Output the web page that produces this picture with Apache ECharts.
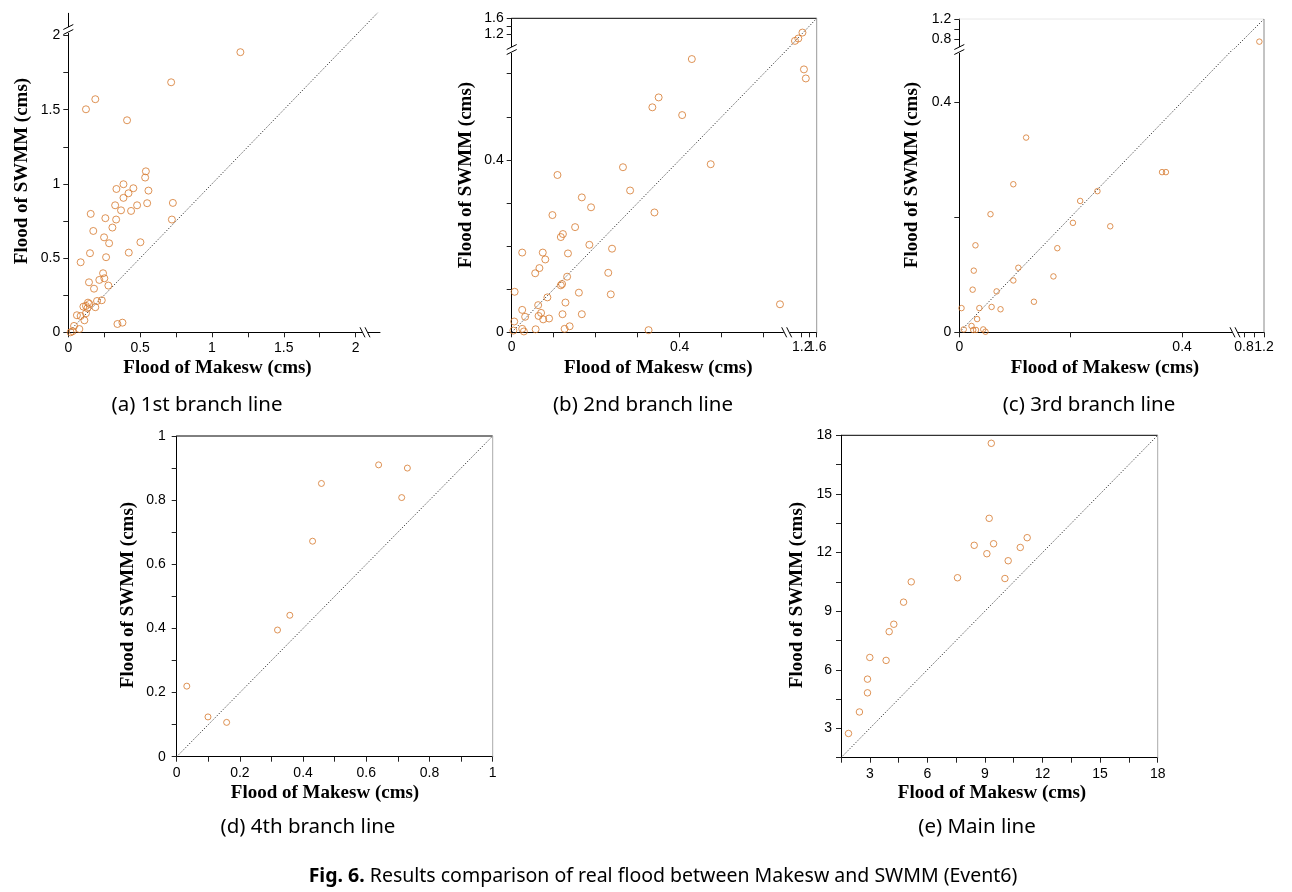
<!DOCTYPE html>
<html><head><meta charset="utf-8">
<script src="https://cdn.jsdelivr.net/npm/echarts@6/dist/echarts.min.js"></script>
<style>html,body{margin:0;padding:0;background:#fff}#c{width:1292px;height:892px}</style>
</head><body><div id="c"></div>
<script>
// ---------------- DATA ----------------
// (a) 1st branch line
const aMakesw = [1.198,0.716,0.188,0.123,0.409,0.540,0.535,0.384,0.335,0.453,0.558,0.419,0.384,0.326,0.479,0.728,0.549,0.367,0.437,0.156,0.258,0.333,0.721,0.174,0.307,0.249,0.284,0.502,0.151,0.421,0.086,0.263,0.242,0.216,0.251,0.144,0.179,0.279,0.200,0.233,0.137,0.147,0.105,0.123,0.188,0.133,0.123,0.060,0.086,0.112,0.077,0.040,0.030,0.016,0.342,0.377];
const aSwmm   = [1.888,1.685,1.571,1.503,1.429,1.085,1.043,0.998,0.966,0.971,0.955,0.937,0.906,0.856,0.856,0.872,0.870,0.822,0.818,0.798,0.769,0.760,0.760,0.683,0.706,0.640,0.600,0.607,0.533,0.537,0.472,0.506,0.398,0.353,0.364,0.337,0.294,0.315,0.211,0.216,0.200,0.191,0.173,0.178,0.169,0.162,0.128,0.115,0.110,0.081,0.022,0.043,0.007,0.000,0.056,0.065];
// (b) 2nd branch line
const bMakesw = [0.429,0.350,0.335,0.406,0.474,0.265,0.109,0.282,0.167,0.189,0.340,0.097,0.151,0.122,0.117,0.185,0.239,0.025,0.074,0.134,0.080,0.066,0.056,0.230,0.132,0.117,0.120,0.160,0.236,0.007,0.085,0.128,0.063,0.025,0.121,0.167,0.032,0.064,0.070,0.075,0.089,0.006,0.138,0.126,0.057,0.025,0.029,0.004,0.326,0.639,1.02,1.11,1.22,1.26,1.31];
const bSwmm   = [0.634,0.545,0.522,0.504,0.390,0.383,0.365,0.329,0.313,0.290,0.278,0.272,0.244,0.228,0.221,0.203,0.194,0.185,0.185,0.183,0.169,0.149,0.137,0.138,0.129,0.109,0.112,0.092,0.088,0.094,0.081,0.069,0.063,0.052,0.042,0.042,0.036,0.038,0.045,0.030,0.032,0.025,0.014,0.008,0.007,0.008,0.002,0.004,0.005,0.065,1.03,1.09,1.24,0.610,0.589];
// (c) 3rd branch line
const cMakesw = [1.107,0.120,0.097,0.056,0.029,0.026,0.024,0.004,0.036,0.058,0.074,0.032,0.022,0.008,0.025,0.030,0.043,0.047,0.067,0.097,0.106,0.134,0.169,0.176,0.204,0.217,0.248,0.271,0.364,0.371];
const cSwmm   = [0.747,0.338,0.257,0.205,0.151,0.107,0.074,0.042,0.042,0.044,0.040,0.023,0.011,0.005,0.004,0.004,0.005,0.001,0.071,0.090,0.112,0.053,0.097,0.146,0.190,0.228,0.245,0.184,0.278,0.278];
// (d) 4th branch line
const dMakesw = [0.639,0.730,0.458,0.712,0.430,0.358,0.319,0.032,0.099,0.158];
const dSwmm   = [0.910,0.900,0.852,0.808,0.672,0.441,0.395,0.220,0.124,0.107];
// (e) Main line
const eMakesw = [9.33,9.22,11.20,8.44,9.45,10.84,9.10,10.21,7.57,10.04,5.16,4.76,4.25,4.01,3.85,3.00,2.88,2.88,2.46,1.89];
const eSwmm   = [17.59,13.75,12.76,12.37,12.45,12.26,11.94,11.58,10.71,10.67,10.50,9.46,8.33,7.95,6.48,6.63,5.52,4.82,3.84,2.74];

// Axis ranges, ticks and tick labels
const aRangeX = [0, 2.17], aRangeY = [0, 2.15];
const aTicks = [0,0.25,0.5,0.75,1,1.25,1.5,1.75,2];
const aLabels = [0,0.5,1,1.5,2];

const bLoRange = [0, 0.655], bHiRange = [0.8, 1.6];
const bLoTicks = [0,0.1,0.2,0.3,0.4,0.5,0.6], bLoLabels = [0,0.4];
const bHiTicks = [1.2,1.4,1.6], bHiLabels = [1.2,1.6];

const cXLoRange = [0, 0.495], cXHiRange = [0.62, 1.2];
const cYLoRange = [0, 0.49],  cYHiRange = [0.58, 1.2];
const cLoTicks = [0,0.2,0.4], cLoLabels = [0,0.4];
const cHiTicks = [0.8,1.0,1.2], cHiLabels = [0.8,1.2];

const dRange = [0, 1];
const dTicks = [0,0.1,0.2,0.3,0.4,0.5,0.6,0.7,0.8,0.9,1];
const dLabels = [0,0.2,0.4,0.6,0.8,1];

const eRange = [1.5, 18];
const eTicks = [1.5,3,4.5,6,7.5,9,10.5,12,13.5,15,16.5,18];
const eLabels = [3,6,9,12,15,18];

const xTitle = 'Flood of Makesw (cms)';
const yTitle = 'Flood of SWMM (cms)';
const subCaptions = ['(a) 1st branch line','(b) 2nd branch line','(c) 3rd branch line','(d) 4th branch line','(e) Main line'];
const figCaptionBold = 'Fig. 6.';
const figCaption = 'Results comparison of real flood between Makesw and SWMM (Event6)';

// ---------------- BUILD ----------------
const TICKFONT = '"Liberation Sans", Arial, sans-serif';
const TITLEFONT = 'bold 19px "Liberation Serif", "Times New Roman", serif';
const CAPFONT = '"Noto Sans", "Open Sans", sans-serif';
const MARK = '#d6782c';
const grids = [], xAxes = [], yAxes = [], series = [], graphics = [];

function addGrid(l, t, r, b) {
  grids.push({left: l, top: t, width: r - l, height: b - t});
  return grids.length - 1;
}
function axisCfg(dim, gi, range, o) {
  const position = dim === 'x' ? 'bottom' : 'left';
  if (!o) return {gridIndex: gi, type: 'value', position, min: range[0], max: range[1], show: false};
  return {
    gridIndex: gi, type: 'value', position, offset: 0, min: range[0], max: range[1], show: true,
    axisLine: {show: o.line !== false, onZero: false, lineStyle: {color: '#000', width: 1}},
    axisTick: {show: o.line !== false, length: 5, inside: false, customValues: o.ticks, lineStyle: {color: '#222', width: 1}},
    axisLabel: {show: true, customValues: o.labels, margin: o.margin || 8, color: '#000',
      fontSize: 14, fontFamily: TICKFONT, hideOverlap: false, showMinLabel: true, showMaxLabel: true},
    splitLine: {show: false}
  };
}
function addAxes(gi, xr, yr, xo, yo) {
  xAxes.push(axisCfg('x', gi, xr, xo));
  yAxes.push(axisCfg('y', gi, yr, yo));
  return {xi: xAxes.length - 1, yi: yAxes.length - 1};
}
// one extra label-only axis per label, so labels that sit close together are never dropped
function extraLabels(dim, gi, range, labels, margin) {
  const list = dim === 'x' ? xAxes : yAxes;
  labels.forEach(v => list.push(axisCfg(dim, gi, range, {line: false, ticks: [], labels: [v], margin})));
}
function addScatter(ax, pts, size) {
  series.push({type: 'scatter', xAxisIndex: ax.xi, yAxisIndex: ax.yi, data: pts, symbol: 'circle',
    symbolSize: size, silent: true, clip: false, z: 3,
    itemStyle: {color: 'rgba(255,255,255,0)', borderColor: MARK, borderWidth: 1}});
}
function addDiag(ax, lo, hi) {
  series.push({type: 'line', xAxisIndex: ax.xi, yAxisIndex: ax.yi, data: [[lo, lo], [hi, hi]],
    symbol: 'none', showSymbol: false, silent: true, clip: true, z: 2,
    lineStyle: {color: '#333', width: 1, type: [1.2, 1.8]}});
}
function gLine(x1, y1, x2, y2, color, w) {
  graphics.push({type: 'line', silent: true, z: 100, shape: {x1, y1, x2, y2}, style: {stroke: color, lineWidth: w || 1}});
}
function gRect(x, y, w, h) {
  graphics.push({type: 'rect', silent: true, z: 99, shape: {x, y, width: w, height: h}, style: {fill: '#fff'}});
}
function gText(x, y, text, font, rot) {
  graphics.push({type: 'text', silent: true, z: 100, x, y, rotation: rot || 0,
    style: {text, font, fill: '#000', textAlign: 'center', textVerticalAlign: 'middle'}});
}
function breakY(x, y) { // '//' on vertical axis
  gRect(x - 2, y - 3, 4, 6);
  gLine(x - 5, y - 0.5, x + 5, y - 5.5, '#000', 1);
  gLine(x - 5, y + 4.5, x + 5, y - 0.5, '#000', 1);
}
function breakX(x, y) { // '\\' on horizontal axis
  gRect(x - 3, y - 2, 6, 4);
  gLine(x - 5, y - 5, x, y + 5, '#000', 1);
  gLine(x, y - 5, x + 5, y + 5, '#000', 1);
}
function zip(xs, ys) { return xs.map((v, i) => [v, ys[i]]); }

function simplePanel(P, xs, ys, xr, yr, ticks, labels, size) {
  const g = addGrid(P.L, P.T, P.R, P.B);
  const ax = addAxes(g, xr, yr, {ticks, labels, margin: P.mx}, {ticks, labels, margin: P.my});
  addDiag(ax, Math.min(xr[0], yr[0]), Math.max(xr[1], yr[1]));
  addScatter(ax, zip(xs, ys), size);
}
function brokenPanel(P, xs, ys, xLo, xHi, yLo, yHi, tk, size) {
  const gMain = addGrid(P.L, P.YB, P.XB, P.B);
  const gRight = addGrid(P.XB, P.YB, P.R, P.B);
  const gTop = addGrid(P.L, P.T, P.XB, P.YB);
  const gCorner = addGrid(P.XB, P.T, P.R, P.YB);
  const aMain = addAxes(gMain, xLo, yLo, {ticks: tk.xLoT, labels: tk.xLoL}, {ticks: tk.yLoT, labels: tk.yLoL});
  const aRight = addAxes(gRight, xHi, yLo, {ticks: tk.xHiT, labels: []}, null);
  const aTop = addAxes(gTop, xLo, yHi, null, {ticks: tk.yHiT, labels: []});
  const aCorner = addAxes(gCorner, xHi, yHi, null, null);
  extraLabels('x', gRight, xHi, tk.xHiL, 8);
  extraLabels('y', gTop, yHi, tk.yHiL, 8);
  const hi = Math.max(xHi[1], yHi[1]);
  addDiag(aMain, 0, hi);
  addDiag(aCorner, 0, hi);
  const parts = [[], [], [], []];
  xs.forEach((x, i) => {
    const y = ys[i];
    const right = x > xLo[1], top = y > yLo[1];
    parts[right ? (top ? 3 : 1) : (top ? 2 : 0)].push([x, y]);
  });
  [aMain, aRight, aTop, aCorner].forEach((a, k) => addScatter(a, parts[k], size));
  breakY(P.L, P.YB);
  breakX(P.XB, P.B);
}

// Layout (pixels)
const PA = {L: 68.3, T: 13.3, R: 380, B: 332.3, mx: 9, my: 8};
const PB = {L: 511.7, T: 18.3, R: 816.7, B: 332.3, XB: 786.7, YB: 50};
const PC = {L: 959.3, T: 19, R: 1264, B: 332.3, XB: 1235, YB: 50};
const PD = {L: 176.7, T: 436, R: 492.7, B: 756.7, mx: 9, my: 11};
const PE = {L: 841, T: 435.3, R: 1157.7, B: 757.7, mx: 9, my: 9};

simplePanel(PA, aMakesw, aSwmm, aRangeX, aRangeY, aTicks, aLabels, 7);
breakY(PA.L, 30);
breakX(365, PA.B);

brokenPanel(PB, bMakesw, bSwmm, bLoRange, bHiRange, bLoRange, bHiRange,
  {xLoT: bLoTicks, xLoL: bLoLabels, yLoT: bLoTicks, yLoL: bLoLabels,
   xHiT: bHiTicks, xHiL: bHiLabels, yHiT: bHiTicks, yHiL: bHiLabels}, 7);
gLine(PB.L, PB.T, PB.R, PB.T, '#000', 1);
gLine(PB.R, PB.T, PB.R, PB.B, '#999', 1);

brokenPanel(PC, cMakesw, cSwmm, cXLoRange, cXHiRange, cYLoRange, cYHiRange,
  {xLoT: cLoTicks, xLoL: cLoLabels, yLoT: cLoTicks, yLoL: cLoLabels,
   xHiT: cHiTicks, xHiL: cHiLabels, yHiT: cHiTicks, yHiL: cHiLabels}, 5.5);
gLine(PC.L, PC.T, PC.R, PC.T, '#e8e8e8', 1);
gLine(PC.R, PC.T, PC.R, PC.B, '#888', 1);

simplePanel(PD, dMakesw, dSwmm, dRange, dRange, dTicks, dLabels, 6);
gLine(PD.L, PD.T, PD.R, PD.T, '#000', 1);
gLine(PD.R, PD.T, PD.R, PD.B, '#aaa', 1);

simplePanel(PE, eMakesw, eSwmm, eRange, eRange, eTicks, eLabels, 6.5);
gLine(PE.L, PE.T, PE.R, PE.T, '#000', 1);
gLine(PE.R, PE.T, PE.R, PE.B, '#aaa', 1);

// Axis titles
const titlePos = [
  {xt: [217.5, 368], yt: [21.7, 171]},
  {xt: [658.3, 368.3], yt: [466, 175]},
  {xt: [1105, 368.3], yt: [911.7, 175]},
  {xt: [325, 793.3], yt: [127.7, 595]},
  {xt: [992, 793.3], yt: [796.7, 595]}
];
titlePos.forEach(p => {
  gText(p.xt[0], p.xt[1], xTitle, TITLEFONT, 0);
  gText(p.yt[0], p.yt[1], yTitle, TITLEFONT, Math.PI / 2);
});
// Sub captions
const capPos = [[197, 405], [643, 405], [1089, 405], [308, 827], [977, 827]];
subCaptions.forEach((t, i) => gText(capPos[i][0], capPos[i][1], t, '20.5px ' + CAPFONT, 0));
// Figure caption
graphics.push({type: 'text', silent: true, z: 100, x: 663, y: 876,
  style: {text: '{b|' + figCaptionBold + '} ' + figCaption,
    fontSize: 19.5, fontFamily: CAPFONT, fill: '#000', textAlign: 'center', textVerticalAlign: 'middle',
    rich: {b: {fontWeight: 'bold', fontSize: 19.5, fontFamily: CAPFONT}}}});

const chart = echarts.init(document.getElementById('c'), null, {renderer: 'canvas'});
chart.setOption({
  animation: false,
  backgroundColor: '#fff',
  grid: grids, xAxis: xAxes, yAxis: yAxes, series: series, graphic: graphics
});
</script></body></html>
